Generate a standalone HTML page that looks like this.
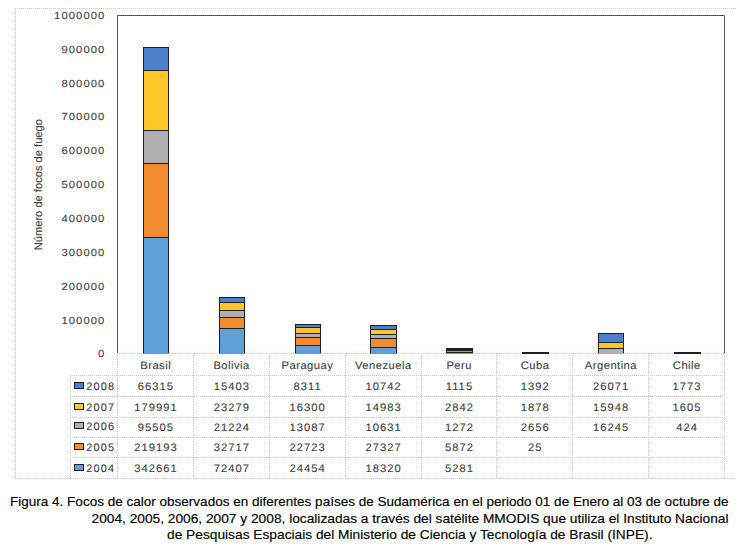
<!DOCTYPE html><html><head><meta charset="utf-8"><style>html,body{margin:0;padding:0;background:#fff;}svg{display:block}</style></head><body>
<svg width="751" height="548" viewBox="0 0 751 548">
<rect x="0" y="0" width="751" height="548" fill="#fff"/>
<line x1="15" y1="8.5" x2="736" y2="8.5" stroke="#c8ccc8" stroke-width="1" stroke-dasharray="1 1"/>
<line x1="15.5" y1="8" x2="15.5" y2="478" stroke="#c8ccc8" stroke-width="1" stroke-dasharray="1 1"/>
<line x1="15" y1="478.5" x2="736" y2="478.5" stroke="#c8ccc8" stroke-width="1" stroke-dasharray="1 1"/>
<line x1="117" y1="353.5" x2="724" y2="353.5" stroke="#c8ccc8" stroke-width="1" stroke-dasharray="1 1"/>
<line x1="70" y1="375.5" x2="724" y2="375.5" stroke="#c8ccc8" stroke-width="1" stroke-dasharray="1 1"/>
<line x1="70" y1="396.5" x2="724" y2="396.5" stroke="#c8ccc8" stroke-width="1" stroke-dasharray="1 1"/>
<line x1="70" y1="417.5" x2="724" y2="417.5" stroke="#c8ccc8" stroke-width="1" stroke-dasharray="1 1"/>
<line x1="70" y1="437.5" x2="724" y2="437.5" stroke="#c8ccc8" stroke-width="1" stroke-dasharray="1 1"/>
<line x1="70" y1="457.5" x2="724" y2="457.5" stroke="#c8ccc8" stroke-width="1" stroke-dasharray="1 1"/>
<line x1="70.5" y1="375" x2="70.5" y2="478" stroke="#c8ccc8" stroke-width="1" stroke-dasharray="1 1"/>
<line x1="118" y1="350.5" x2="724" y2="350.5" stroke="#e4e4e4" stroke-width="1" stroke-dasharray="1 3"/>
<line x1="117.5" y1="353" x2="117.5" y2="478" stroke="#c8ccc8" stroke-width="1" stroke-dasharray="1 1"/>
<line x1="193.5" y1="353" x2="193.5" y2="478" stroke="#c8ccc8" stroke-width="1" stroke-dasharray="1 1"/>
<line x1="269.5" y1="353" x2="269.5" y2="478" stroke="#c8ccc8" stroke-width="1" stroke-dasharray="1 1"/>
<line x1="345.5" y1="353" x2="345.5" y2="478" stroke="#c8ccc8" stroke-width="1" stroke-dasharray="1 1"/>
<line x1="421.5" y1="353" x2="421.5" y2="478" stroke="#c8ccc8" stroke-width="1" stroke-dasharray="1 1"/>
<line x1="496.5" y1="353" x2="496.5" y2="478" stroke="#c8ccc8" stroke-width="1" stroke-dasharray="1 1"/>
<line x1="572.5" y1="353" x2="572.5" y2="478" stroke="#c8ccc8" stroke-width="1" stroke-dasharray="1 1"/>
<line x1="648.5" y1="353" x2="648.5" y2="478" stroke="#c8ccc8" stroke-width="1" stroke-dasharray="1 1"/>
<line x1="724.5" y1="353" x2="724.5" y2="478" stroke="#c8ccc8" stroke-width="1" stroke-dasharray="1 1"/>
<rect x="143" y="237" width="26" height="117" fill="#60A0D8"/>
<rect x="143" y="163" width="26" height="74" fill="#F28A30"/>
<rect x="143" y="130" width="26" height="33" fill="#AFAFB0"/>
<rect x="143" y="70" width="26" height="60" fill="#FFC62A"/>
<rect x="143" y="47" width="26" height="23" fill="#4A80CC"/>
<rect x="143" y="47" width="1" height="306" fill="#1f1f1f"/>
<rect x="168" y="47" width="1" height="306" fill="#1f1f1f"/>
<rect x="143" y="237" width="26" height="1" fill="#1f1f1f"/>
<rect x="143" y="163" width="26" height="1" fill="#1f1f1f"/>
<rect x="143" y="130" width="26" height="1" fill="#1f1f1f"/>
<rect x="143" y="70" width="26" height="1" fill="#1f1f1f"/>
<rect x="143" y="47" width="26" height="1" fill="#1f1f1f"/>
<rect x="219" y="328" width="26" height="26" fill="#60A0D8"/>
<rect x="219" y="317" width="26" height="11" fill="#F28A30"/>
<rect x="219" y="310" width="26" height="7" fill="#AFAFB0"/>
<rect x="219" y="302" width="26" height="8" fill="#FFC62A"/>
<rect x="219" y="297" width="26" height="5" fill="#4A80CC"/>
<rect x="219" y="297" width="1" height="56" fill="#1f1f1f"/>
<rect x="244" y="297" width="1" height="56" fill="#1f1f1f"/>
<rect x="219" y="328" width="26" height="1" fill="#1f1f1f"/>
<rect x="219" y="317" width="26" height="1" fill="#1f1f1f"/>
<rect x="219" y="310" width="26" height="1" fill="#1f1f1f"/>
<rect x="219" y="302" width="26" height="1" fill="#1f1f1f"/>
<rect x="219" y="297" width="26" height="1" fill="#1f1f1f"/>
<rect x="295" y="345" width="26" height="9" fill="#60A0D8"/>
<rect x="295" y="337" width="26" height="8" fill="#F28A30"/>
<rect x="295" y="333" width="26" height="4" fill="#AFAFB0"/>
<rect x="295" y="327" width="26" height="6" fill="#FFC62A"/>
<rect x="295" y="324" width="26" height="3" fill="#4A80CC"/>
<rect x="295" y="324" width="1" height="29" fill="#1f1f1f"/>
<rect x="320" y="324" width="1" height="29" fill="#1f1f1f"/>
<rect x="295" y="345" width="26" height="1" fill="#1f1f1f"/>
<rect x="295" y="337" width="26" height="1" fill="#1f1f1f"/>
<rect x="295" y="333" width="26" height="1" fill="#1f1f1f"/>
<rect x="295" y="327" width="26" height="1" fill="#1f1f1f"/>
<rect x="295" y="324" width="26" height="1" fill="#1f1f1f"/>
<rect x="370" y="347" width="27" height="7" fill="#60A0D8"/>
<rect x="370" y="338" width="27" height="9" fill="#F28A30"/>
<rect x="370" y="334" width="27" height="4" fill="#AFAFB0"/>
<rect x="370" y="329" width="27" height="5" fill="#FFC62A"/>
<rect x="370" y="325" width="27" height="4" fill="#4A80CC"/>
<rect x="370" y="325" width="1" height="28" fill="#1f1f1f"/>
<rect x="396" y="325" width="1" height="28" fill="#1f1f1f"/>
<rect x="370" y="347" width="27" height="1" fill="#1f1f1f"/>
<rect x="370" y="338" width="27" height="1" fill="#1f1f1f"/>
<rect x="370" y="334" width="27" height="1" fill="#1f1f1f"/>
<rect x="370" y="329" width="27" height="1" fill="#1f1f1f"/>
<rect x="370" y="325" width="27" height="1" fill="#1f1f1f"/>
<rect x="446" y="352" width="27" height="2" fill="#60A0D8"/>
<rect x="446" y="350" width="27" height="2" fill="#F28A30"/>
<rect x="446" y="349" width="27" height="1" fill="#AFAFB0"/>
<rect x="446" y="348" width="27" height="1" fill="#FFC62A"/>
<rect x="446" y="348" width="27" height="0" fill="#4A80CC"/>
<rect x="446" y="348" width="1" height="5" fill="#1f1f1f"/>
<rect x="472" y="348" width="1" height="5" fill="#1f1f1f"/>
<rect x="446" y="352" width="27" height="1" fill="#1f1f1f"/>
<rect x="446" y="350" width="27" height="1" fill="#1f1f1f"/>
<rect x="446" y="349" width="27" height="1" fill="#1f1f1f"/>
<rect x="446" y="348" width="27" height="1" fill="#1f1f1f"/>
<rect x="446" y="348" width="27" height="1" fill="#1f1f1f"/>
<rect x="522" y="353" width="27" height="1" fill="#F28A30"/>
<rect x="522" y="352" width="27" height="1" fill="#AFAFB0"/>
<rect x="522" y="352" width="27" height="0" fill="#FFC62A"/>
<rect x="522" y="352" width="27" height="0" fill="#4A80CC"/>
<rect x="522" y="352" width="1" height="1" fill="#1f1f1f"/>
<rect x="548" y="352" width="1" height="1" fill="#1f1f1f"/>
<rect x="522" y="353" width="27" height="1" fill="#1f1f1f"/>
<rect x="522" y="352" width="27" height="1" fill="#1f1f1f"/>
<rect x="522" y="352" width="27" height="1" fill="#1f1f1f"/>
<rect x="522" y="352" width="27" height="1" fill="#1f1f1f"/>
<rect x="598" y="348" width="26" height="6" fill="#AFAFB0"/>
<rect x="598" y="342" width="26" height="6" fill="#FFC62A"/>
<rect x="598" y="333" width="26" height="9" fill="#4A80CC"/>
<rect x="598" y="333" width="1" height="20" fill="#1f1f1f"/>
<rect x="623" y="333" width="1" height="20" fill="#1f1f1f"/>
<rect x="598" y="348" width="26" height="1" fill="#1f1f1f"/>
<rect x="598" y="342" width="26" height="1" fill="#1f1f1f"/>
<rect x="598" y="333" width="26" height="1" fill="#1f1f1f"/>
<rect x="674" y="353" width="27" height="1" fill="#AFAFB0"/>
<rect x="674" y="352" width="27" height="1" fill="#FFC62A"/>
<rect x="674" y="352" width="27" height="0" fill="#4A80CC"/>
<rect x="674" y="352" width="1" height="1" fill="#1f1f1f"/>
<rect x="700" y="352" width="1" height="1" fill="#1f1f1f"/>
<rect x="674" y="353" width="27" height="1" fill="#1f1f1f"/>
<rect x="674" y="352" width="27" height="1" fill="#1f1f1f"/>
<rect x="674" y="352" width="27" height="1" fill="#1f1f1f"/>
<polyline points="117.5,353 117.5,15.5 724.5,15.5 724.5,353" fill="none" stroke="#564e5c" stroke-width="1"/>
<text transform="translate(105.39,357.40) scale(1.09,1)" text-anchor="end" style="font-family:'Liberation Sans', sans-serif;font-size:10.3px;letter-spacing:1.0px;text-rendering:geometricPrecision;fill:#3c3c3c;stroke:#3c3c3c;stroke-width:0.1px">0</text>
<text transform="translate(105.39,323.54) scale(1.09,1)" text-anchor="end" style="font-family:'Liberation Sans', sans-serif;font-size:10.3px;letter-spacing:1.0px;text-rendering:geometricPrecision;fill:#3c3c3c;stroke:#3c3c3c;stroke-width:0.1px">100000</text>
<text transform="translate(105.39,289.68) scale(1.09,1)" text-anchor="end" style="font-family:'Liberation Sans', sans-serif;font-size:10.3px;letter-spacing:1.0px;text-rendering:geometricPrecision;fill:#3c3c3c;stroke:#3c3c3c;stroke-width:0.1px">200000</text>
<text transform="translate(105.39,255.82) scale(1.09,1)" text-anchor="end" style="font-family:'Liberation Sans', sans-serif;font-size:10.3px;letter-spacing:1.0px;text-rendering:geometricPrecision;fill:#3c3c3c;stroke:#3c3c3c;stroke-width:0.1px">300000</text>
<text transform="translate(105.39,221.96) scale(1.09,1)" text-anchor="end" style="font-family:'Liberation Sans', sans-serif;font-size:10.3px;letter-spacing:1.0px;text-rendering:geometricPrecision;fill:#3c3c3c;stroke:#3c3c3c;stroke-width:0.1px">400000</text>
<text transform="translate(105.39,188.10) scale(1.09,1)" text-anchor="end" style="font-family:'Liberation Sans', sans-serif;font-size:10.3px;letter-spacing:1.0px;text-rendering:geometricPrecision;fill:#3c3c3c;stroke:#3c3c3c;stroke-width:0.1px">500000</text>
<text transform="translate(105.39,154.24) scale(1.09,1)" text-anchor="end" style="font-family:'Liberation Sans', sans-serif;font-size:10.3px;letter-spacing:1.0px;text-rendering:geometricPrecision;fill:#3c3c3c;stroke:#3c3c3c;stroke-width:0.1px">600000</text>
<text transform="translate(105.39,120.38) scale(1.09,1)" text-anchor="end" style="font-family:'Liberation Sans', sans-serif;font-size:10.3px;letter-spacing:1.0px;text-rendering:geometricPrecision;fill:#3c3c3c;stroke:#3c3c3c;stroke-width:0.1px">700000</text>
<text transform="translate(105.39,86.52) scale(1.09,1)" text-anchor="end" style="font-family:'Liberation Sans', sans-serif;font-size:10.3px;letter-spacing:1.0px;text-rendering:geometricPrecision;fill:#3c3c3c;stroke:#3c3c3c;stroke-width:0.1px">800000</text>
<text transform="translate(105.39,52.66) scale(1.09,1)" text-anchor="end" style="font-family:'Liberation Sans', sans-serif;font-size:10.3px;letter-spacing:1.0px;text-rendering:geometricPrecision;fill:#3c3c3c;stroke:#3c3c3c;stroke-width:0.1px">900000</text>
<text transform="translate(105.39,18.80) scale(1.09,1)" text-anchor="end" style="font-family:'Liberation Sans', sans-serif;font-size:10.3px;letter-spacing:1.0px;text-rendering:geometricPrecision;fill:#3c3c3c;stroke:#3c3c3c;stroke-width:0.1px">1000000</text>
<text transform="translate(41.8,250.3) rotate(-90)" x="0" y="0" textLength="131.2" lengthAdjust="spacingAndGlyphs" style="font-family:'Liberation Sans', sans-serif;font-size:11px;text-rendering:geometricPrecision;fill:#3c3c3c;stroke:#3c3c3c;stroke-width:0.12px">Número de focos de fuego</text>
<text transform="translate(155.67,368.60) scale(1.03,1)" text-anchor="middle" style="font-family:'Liberation Sans', sans-serif;font-size:10.9px;letter-spacing:0.45px;text-rendering:geometricPrecision;fill:#3c3c3c;stroke:#3c3c3c;stroke-width:0.1px">Brasil</text>
<text transform="translate(231.54,368.60) scale(1.03,1)" text-anchor="middle" style="font-family:'Liberation Sans', sans-serif;font-size:10.9px;letter-spacing:0.45px;text-rendering:geometricPrecision;fill:#3c3c3c;stroke:#3c3c3c;stroke-width:0.1px">Bolivia</text>
<text transform="translate(307.42,368.60) scale(1.03,1)" text-anchor="middle" style="font-family:'Liberation Sans', sans-serif;font-size:10.9px;letter-spacing:0.45px;text-rendering:geometricPrecision;fill:#3c3c3c;stroke:#3c3c3c;stroke-width:0.1px">Paraguay</text>
<text transform="translate(383.29,368.60) scale(1.03,1)" text-anchor="middle" style="font-family:'Liberation Sans', sans-serif;font-size:10.9px;letter-spacing:0.45px;text-rendering:geometricPrecision;fill:#3c3c3c;stroke:#3c3c3c;stroke-width:0.1px">Venezuela</text>
<text transform="translate(459.17,368.60) scale(1.03,1)" text-anchor="middle" style="font-family:'Liberation Sans', sans-serif;font-size:10.9px;letter-spacing:0.45px;text-rendering:geometricPrecision;fill:#3c3c3c;stroke:#3c3c3c;stroke-width:0.1px">Peru</text>
<text transform="translate(535.04,368.60) scale(1.03,1)" text-anchor="middle" style="font-family:'Liberation Sans', sans-serif;font-size:10.9px;letter-spacing:0.45px;text-rendering:geometricPrecision;fill:#3c3c3c;stroke:#3c3c3c;stroke-width:0.1px">Cuba</text>
<text transform="translate(610.92,368.60) scale(1.03,1)" text-anchor="middle" style="font-family:'Liberation Sans', sans-serif;font-size:10.9px;letter-spacing:0.45px;text-rendering:geometricPrecision;fill:#3c3c3c;stroke:#3c3c3c;stroke-width:0.1px">Argentina</text>
<text transform="translate(686.79,368.60) scale(1.03,1)" text-anchor="middle" style="font-family:'Liberation Sans', sans-serif;font-size:10.9px;letter-spacing:0.45px;text-rendering:geometricPrecision;fill:#3c3c3c;stroke:#3c3c3c;stroke-width:0.1px">Chile</text>
<rect x="74.5" y="382.5" width="9" height="6" fill="#4A80CC" stroke="#1f1f1f" stroke-width="1"/>
<text transform="translate(86.30,389.70) scale(1.0,1)" text-anchor="start" style="font-family:'Liberation Sans', sans-serif;font-size:10.9px;letter-spacing:1.2px;text-rendering:geometricPrecision;fill:#3c3c3c;stroke:#3c3c3c;stroke-width:0.1px">2008</text>
<text transform="translate(155.95,389.70) scale(1.03,1)" text-anchor="middle" style="font-family:'Liberation Sans', sans-serif;font-size:10.9px;letter-spacing:1.0px;text-rendering:geometricPrecision;fill:#3c3c3c;stroke:#3c3c3c;stroke-width:0.1px">66315</text>
<text transform="translate(231.83,389.70) scale(1.03,1)" text-anchor="middle" style="font-family:'Liberation Sans', sans-serif;font-size:10.9px;letter-spacing:1.0px;text-rendering:geometricPrecision;fill:#3c3c3c;stroke:#3c3c3c;stroke-width:0.1px">15403</text>
<text transform="translate(307.70,389.70) scale(1.03,1)" text-anchor="middle" style="font-family:'Liberation Sans', sans-serif;font-size:10.9px;letter-spacing:1.0px;text-rendering:geometricPrecision;fill:#3c3c3c;stroke:#3c3c3c;stroke-width:0.1px">8311</text>
<text transform="translate(383.58,389.70) scale(1.03,1)" text-anchor="middle" style="font-family:'Liberation Sans', sans-serif;font-size:10.9px;letter-spacing:1.0px;text-rendering:geometricPrecision;fill:#3c3c3c;stroke:#3c3c3c;stroke-width:0.1px">10742</text>
<text transform="translate(459.45,389.70) scale(1.03,1)" text-anchor="middle" style="font-family:'Liberation Sans', sans-serif;font-size:10.9px;letter-spacing:1.0px;text-rendering:geometricPrecision;fill:#3c3c3c;stroke:#3c3c3c;stroke-width:0.1px">1115</text>
<text transform="translate(535.33,389.70) scale(1.03,1)" text-anchor="middle" style="font-family:'Liberation Sans', sans-serif;font-size:10.9px;letter-spacing:1.0px;text-rendering:geometricPrecision;fill:#3c3c3c;stroke:#3c3c3c;stroke-width:0.1px">1392</text>
<text transform="translate(611.20,389.70) scale(1.03,1)" text-anchor="middle" style="font-family:'Liberation Sans', sans-serif;font-size:10.9px;letter-spacing:1.0px;text-rendering:geometricPrecision;fill:#3c3c3c;stroke:#3c3c3c;stroke-width:0.1px">26071</text>
<text transform="translate(687.08,389.70) scale(1.03,1)" text-anchor="middle" style="font-family:'Liberation Sans', sans-serif;font-size:10.9px;letter-spacing:1.0px;text-rendering:geometricPrecision;fill:#3c3c3c;stroke:#3c3c3c;stroke-width:0.1px">1773</text>
<rect x="74.5" y="403.5" width="9" height="6" fill="#FFC62A" stroke="#1f1f1f" stroke-width="1"/>
<text transform="translate(86.30,410.70) scale(1.0,1)" text-anchor="start" style="font-family:'Liberation Sans', sans-serif;font-size:10.9px;letter-spacing:1.2px;text-rendering:geometricPrecision;fill:#3c3c3c;stroke:#3c3c3c;stroke-width:0.1px">2007</text>
<text transform="translate(155.95,410.70) scale(1.03,1)" text-anchor="middle" style="font-family:'Liberation Sans', sans-serif;font-size:10.9px;letter-spacing:1.0px;text-rendering:geometricPrecision;fill:#3c3c3c;stroke:#3c3c3c;stroke-width:0.1px">179991</text>
<text transform="translate(231.83,410.70) scale(1.03,1)" text-anchor="middle" style="font-family:'Liberation Sans', sans-serif;font-size:10.9px;letter-spacing:1.0px;text-rendering:geometricPrecision;fill:#3c3c3c;stroke:#3c3c3c;stroke-width:0.1px">23279</text>
<text transform="translate(307.70,410.70) scale(1.03,1)" text-anchor="middle" style="font-family:'Liberation Sans', sans-serif;font-size:10.9px;letter-spacing:1.0px;text-rendering:geometricPrecision;fill:#3c3c3c;stroke:#3c3c3c;stroke-width:0.1px">16300</text>
<text transform="translate(383.58,410.70) scale(1.03,1)" text-anchor="middle" style="font-family:'Liberation Sans', sans-serif;font-size:10.9px;letter-spacing:1.0px;text-rendering:geometricPrecision;fill:#3c3c3c;stroke:#3c3c3c;stroke-width:0.1px">14983</text>
<text transform="translate(459.45,410.70) scale(1.03,1)" text-anchor="middle" style="font-family:'Liberation Sans', sans-serif;font-size:10.9px;letter-spacing:1.0px;text-rendering:geometricPrecision;fill:#3c3c3c;stroke:#3c3c3c;stroke-width:0.1px">2842</text>
<text transform="translate(535.33,410.70) scale(1.03,1)" text-anchor="middle" style="font-family:'Liberation Sans', sans-serif;font-size:10.9px;letter-spacing:1.0px;text-rendering:geometricPrecision;fill:#3c3c3c;stroke:#3c3c3c;stroke-width:0.1px">1878</text>
<text transform="translate(611.20,410.70) scale(1.03,1)" text-anchor="middle" style="font-family:'Liberation Sans', sans-serif;font-size:10.9px;letter-spacing:1.0px;text-rendering:geometricPrecision;fill:#3c3c3c;stroke:#3c3c3c;stroke-width:0.1px">15948</text>
<text transform="translate(687.08,410.70) scale(1.03,1)" text-anchor="middle" style="font-family:'Liberation Sans', sans-serif;font-size:10.9px;letter-spacing:1.0px;text-rendering:geometricPrecision;fill:#3c3c3c;stroke:#3c3c3c;stroke-width:0.1px">1605</text>
<rect x="74.5" y="422.5" width="9" height="6" fill="#AFAFB0" stroke="#1f1f1f" stroke-width="1"/>
<text transform="translate(86.30,429.70) scale(1.0,1)" text-anchor="start" style="font-family:'Liberation Sans', sans-serif;font-size:10.9px;letter-spacing:1.2px;text-rendering:geometricPrecision;fill:#3c3c3c;stroke:#3c3c3c;stroke-width:0.1px">2006</text>
<text transform="translate(155.95,431.20) scale(1.03,1)" text-anchor="middle" style="font-family:'Liberation Sans', sans-serif;font-size:10.9px;letter-spacing:1.0px;text-rendering:geometricPrecision;fill:#3c3c3c;stroke:#3c3c3c;stroke-width:0.1px">95505</text>
<text transform="translate(231.83,431.20) scale(1.03,1)" text-anchor="middle" style="font-family:'Liberation Sans', sans-serif;font-size:10.9px;letter-spacing:1.0px;text-rendering:geometricPrecision;fill:#3c3c3c;stroke:#3c3c3c;stroke-width:0.1px">21224</text>
<text transform="translate(307.70,431.20) scale(1.03,1)" text-anchor="middle" style="font-family:'Liberation Sans', sans-serif;font-size:10.9px;letter-spacing:1.0px;text-rendering:geometricPrecision;fill:#3c3c3c;stroke:#3c3c3c;stroke-width:0.1px">13087</text>
<text transform="translate(383.58,431.20) scale(1.03,1)" text-anchor="middle" style="font-family:'Liberation Sans', sans-serif;font-size:10.9px;letter-spacing:1.0px;text-rendering:geometricPrecision;fill:#3c3c3c;stroke:#3c3c3c;stroke-width:0.1px">10631</text>
<text transform="translate(459.45,431.20) scale(1.03,1)" text-anchor="middle" style="font-family:'Liberation Sans', sans-serif;font-size:10.9px;letter-spacing:1.0px;text-rendering:geometricPrecision;fill:#3c3c3c;stroke:#3c3c3c;stroke-width:0.1px">1272</text>
<text transform="translate(535.33,431.20) scale(1.03,1)" text-anchor="middle" style="font-family:'Liberation Sans', sans-serif;font-size:10.9px;letter-spacing:1.0px;text-rendering:geometricPrecision;fill:#3c3c3c;stroke:#3c3c3c;stroke-width:0.1px">2656</text>
<text transform="translate(611.20,431.20) scale(1.03,1)" text-anchor="middle" style="font-family:'Liberation Sans', sans-serif;font-size:10.9px;letter-spacing:1.0px;text-rendering:geometricPrecision;fill:#3c3c3c;stroke:#3c3c3c;stroke-width:0.1px">16245</text>
<text transform="translate(687.08,431.20) scale(1.03,1)" text-anchor="middle" style="font-family:'Liberation Sans', sans-serif;font-size:10.9px;letter-spacing:1.0px;text-rendering:geometricPrecision;fill:#3c3c3c;stroke:#3c3c3c;stroke-width:0.1px">424</text>
<rect x="74.5" y="443.5" width="9" height="6" fill="#F28A30" stroke="#1f1f1f" stroke-width="1"/>
<text transform="translate(86.30,450.70) scale(1.0,1)" text-anchor="start" style="font-family:'Liberation Sans', sans-serif;font-size:10.9px;letter-spacing:1.2px;text-rendering:geometricPrecision;fill:#3c3c3c;stroke:#3c3c3c;stroke-width:0.1px">2005</text>
<text transform="translate(155.95,451.20) scale(1.03,1)" text-anchor="middle" style="font-family:'Liberation Sans', sans-serif;font-size:10.9px;letter-spacing:1.0px;text-rendering:geometricPrecision;fill:#3c3c3c;stroke:#3c3c3c;stroke-width:0.1px">219193</text>
<text transform="translate(231.83,451.20) scale(1.03,1)" text-anchor="middle" style="font-family:'Liberation Sans', sans-serif;font-size:10.9px;letter-spacing:1.0px;text-rendering:geometricPrecision;fill:#3c3c3c;stroke:#3c3c3c;stroke-width:0.1px">32717</text>
<text transform="translate(307.70,451.20) scale(1.03,1)" text-anchor="middle" style="font-family:'Liberation Sans', sans-serif;font-size:10.9px;letter-spacing:1.0px;text-rendering:geometricPrecision;fill:#3c3c3c;stroke:#3c3c3c;stroke-width:0.1px">22723</text>
<text transform="translate(383.58,451.20) scale(1.03,1)" text-anchor="middle" style="font-family:'Liberation Sans', sans-serif;font-size:10.9px;letter-spacing:1.0px;text-rendering:geometricPrecision;fill:#3c3c3c;stroke:#3c3c3c;stroke-width:0.1px">27327</text>
<text transform="translate(459.45,451.20) scale(1.03,1)" text-anchor="middle" style="font-family:'Liberation Sans', sans-serif;font-size:10.9px;letter-spacing:1.0px;text-rendering:geometricPrecision;fill:#3c3c3c;stroke:#3c3c3c;stroke-width:0.1px">5872</text>
<text transform="translate(535.33,451.20) scale(1.03,1)" text-anchor="middle" style="font-family:'Liberation Sans', sans-serif;font-size:10.9px;letter-spacing:1.0px;text-rendering:geometricPrecision;fill:#3c3c3c;stroke:#3c3c3c;stroke-width:0.1px">25</text>
<rect x="74.5" y="464.5" width="9" height="6" fill="#60A0D8" stroke="#1f1f1f" stroke-width="1"/>
<text transform="translate(86.30,471.70) scale(1.0,1)" text-anchor="start" style="font-family:'Liberation Sans', sans-serif;font-size:10.9px;letter-spacing:1.2px;text-rendering:geometricPrecision;fill:#3c3c3c;stroke:#3c3c3c;stroke-width:0.1px">2004</text>
<text transform="translate(155.95,471.70) scale(1.03,1)" text-anchor="middle" style="font-family:'Liberation Sans', sans-serif;font-size:10.9px;letter-spacing:1.0px;text-rendering:geometricPrecision;fill:#3c3c3c;stroke:#3c3c3c;stroke-width:0.1px">342661</text>
<text transform="translate(231.83,471.70) scale(1.03,1)" text-anchor="middle" style="font-family:'Liberation Sans', sans-serif;font-size:10.9px;letter-spacing:1.0px;text-rendering:geometricPrecision;fill:#3c3c3c;stroke:#3c3c3c;stroke-width:0.1px">72407</text>
<text transform="translate(307.70,471.70) scale(1.03,1)" text-anchor="middle" style="font-family:'Liberation Sans', sans-serif;font-size:10.9px;letter-spacing:1.0px;text-rendering:geometricPrecision;fill:#3c3c3c;stroke:#3c3c3c;stroke-width:0.1px">24454</text>
<text transform="translate(383.58,471.70) scale(1.03,1)" text-anchor="middle" style="font-family:'Liberation Sans', sans-serif;font-size:10.9px;letter-spacing:1.0px;text-rendering:geometricPrecision;fill:#3c3c3c;stroke:#3c3c3c;stroke-width:0.1px">18320</text>
<text transform="translate(459.45,471.70) scale(1.03,1)" text-anchor="middle" style="font-family:'Liberation Sans', sans-serif;font-size:10.9px;letter-spacing:1.0px;text-rendering:geometricPrecision;fill:#3c3c3c;stroke:#3c3c3c;stroke-width:0.1px">5281</text>
<text x="10" y="505.7" textLength="718.5" lengthAdjust="spacingAndGlyphs" style="font-family:'Liberation Sans', sans-serif;font-size:13.6px;fill:#000;stroke:#000;stroke-width:0.15px">Figura 4. Focos de calor observados en diferentes países de Sudamérica en el periodo 01 de Enero al 03 de octubre de</text>
<text x="91.5" y="522.8" textLength="637" lengthAdjust="spacingAndGlyphs" style="font-family:'Liberation Sans', sans-serif;font-size:13.6px;fill:#000;stroke:#000;stroke-width:0.15px">2004, 2005, 2006, 2007 y 2008, localizadas a través del satélite MMODIS que utiliza el Instituto Nacional</text>
<text x="167" y="538.7" textLength="485.5" lengthAdjust="spacingAndGlyphs" style="font-family:'Liberation Sans', sans-serif;font-size:13.6px;fill:#000;stroke:#000;stroke-width:0.15px">de Pesquisas Espaciais del Ministerio de Ciencia y Tecnología de Brasil (INPE).</text>
</svg></body></html>
